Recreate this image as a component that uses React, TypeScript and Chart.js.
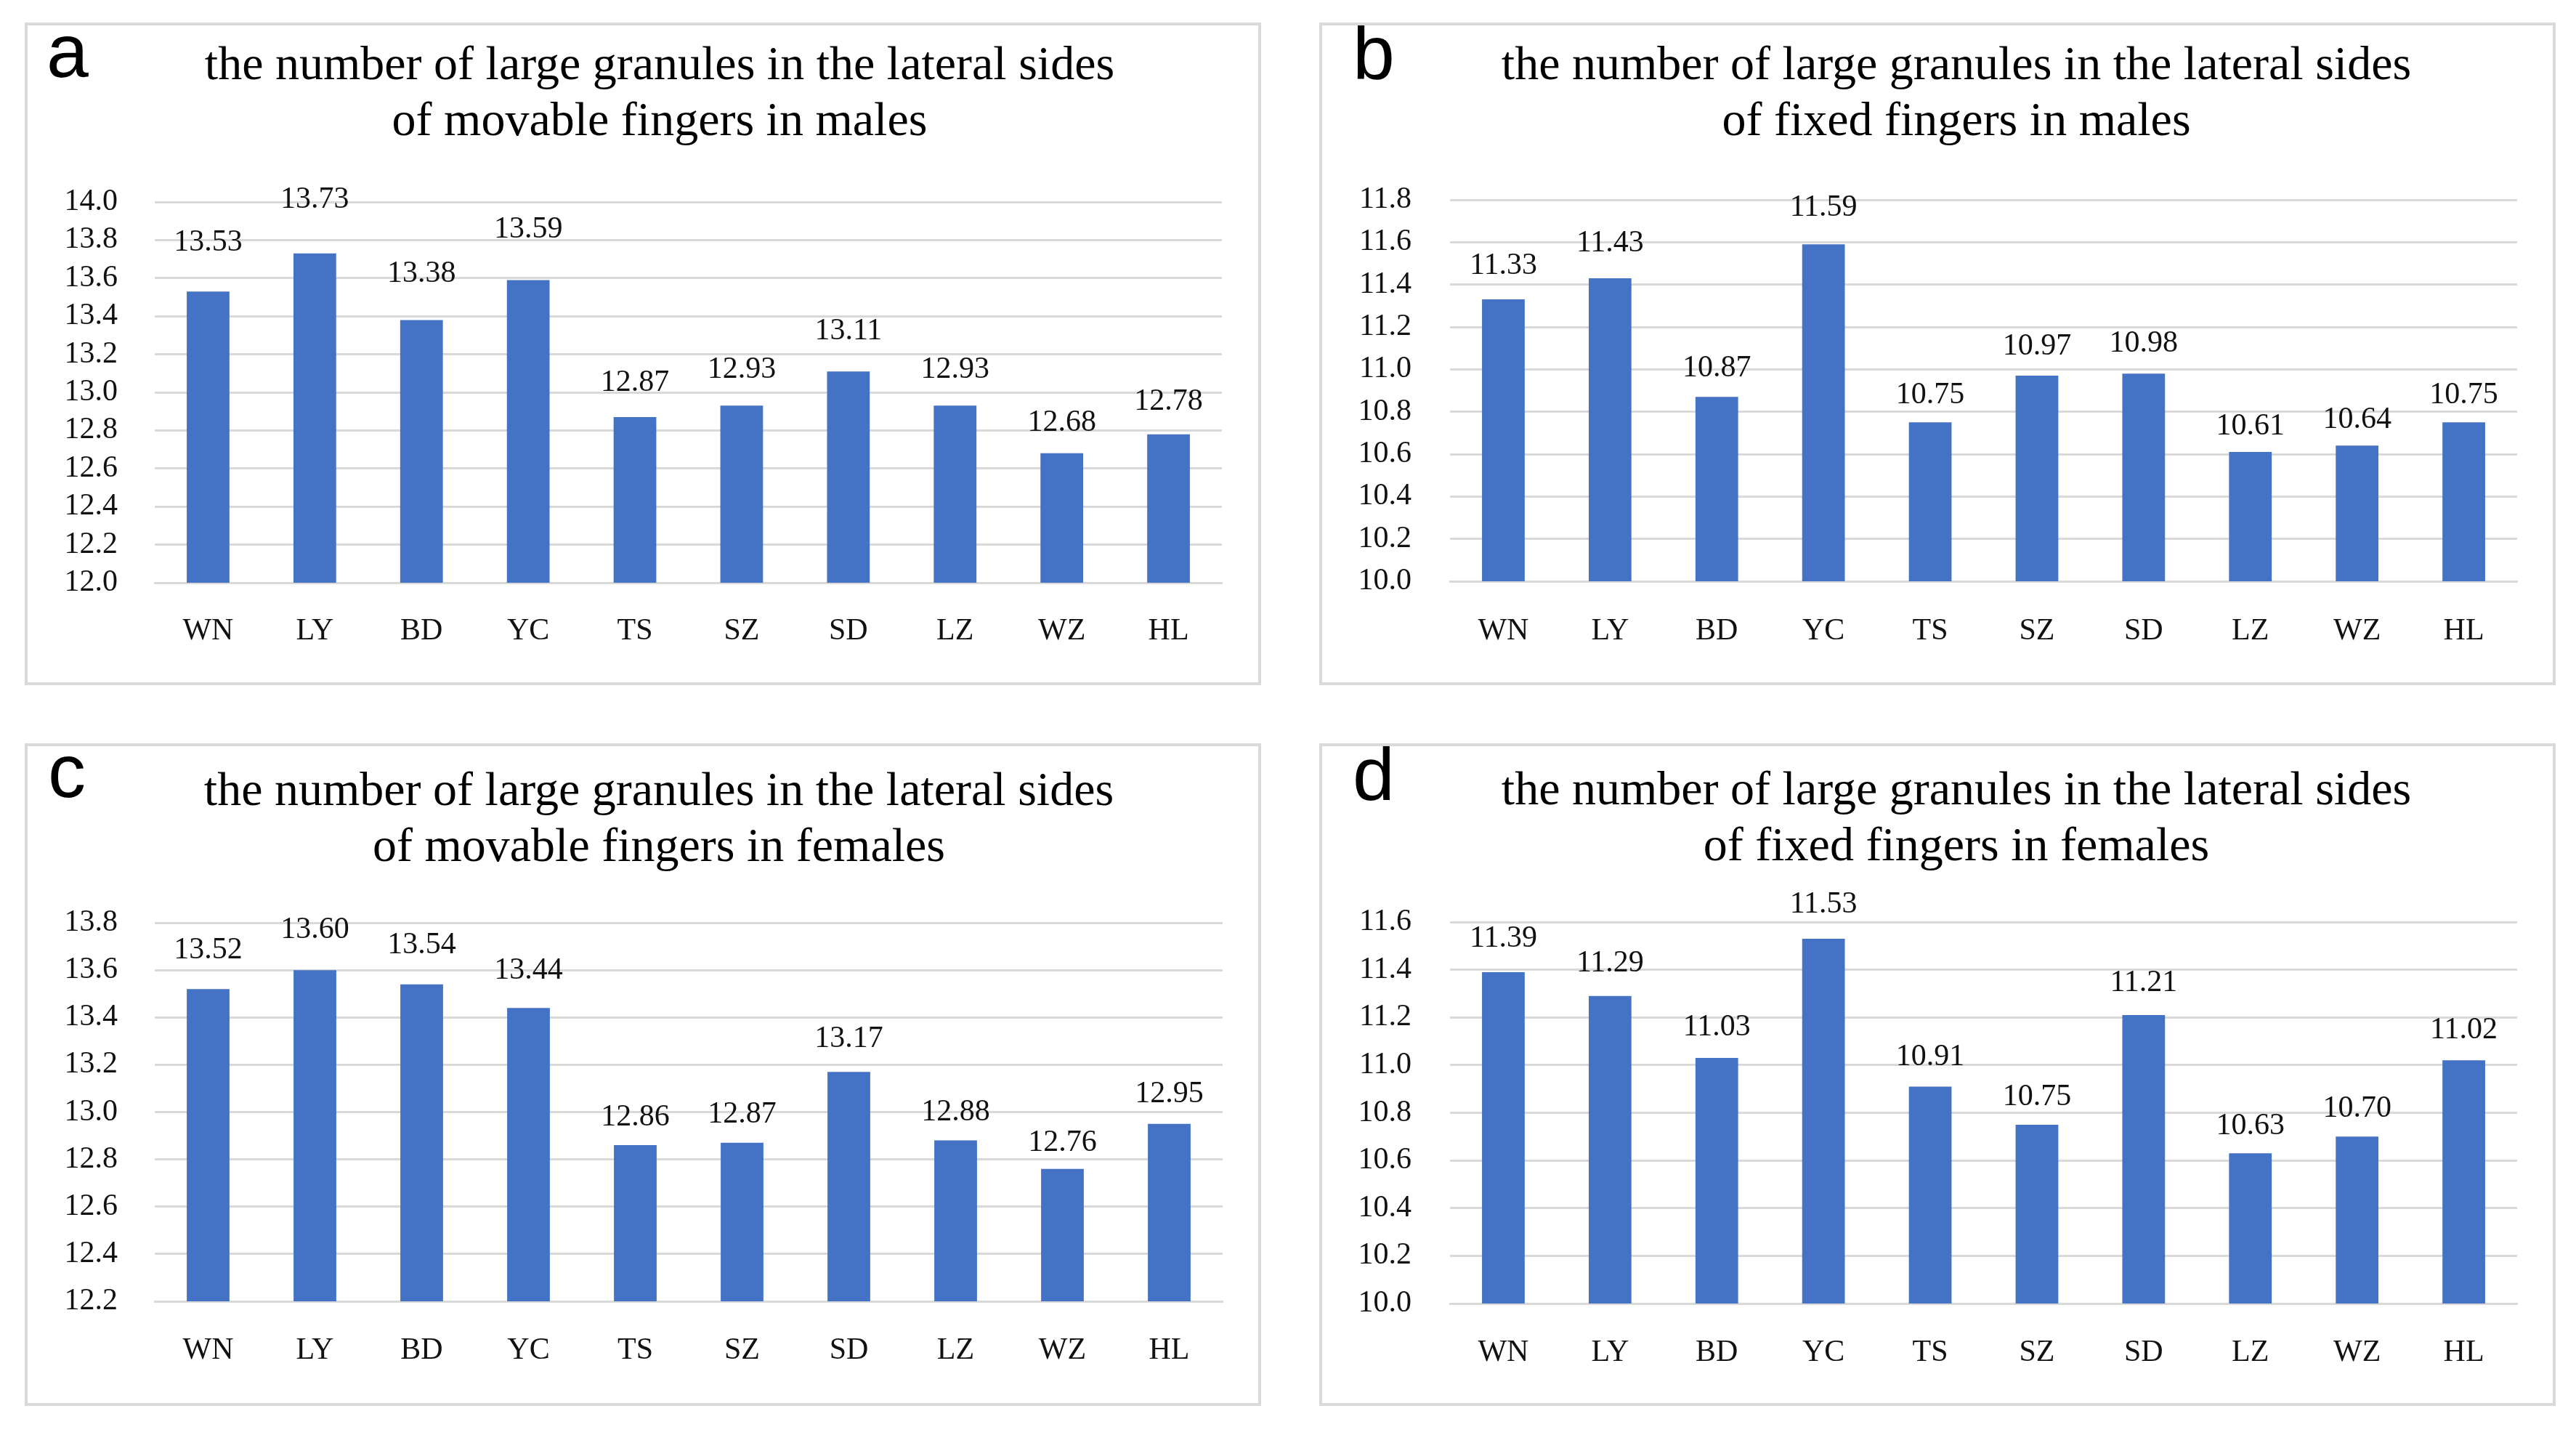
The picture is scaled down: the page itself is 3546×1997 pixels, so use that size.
import React, { useEffect, useRef } from "react";
import { Chart, registerables } from "chart.js";

Chart.register(...registerables);

// ---------- data ----------
const categories = ["WN", "LY", "BD", "YC", "TS", "SZ", "SD", "LZ", "WZ", "HL"];

const movableMales = [13.53, 13.73, 13.38, 13.59, 12.87, 12.93, 13.11, 12.93, 12.68, 12.78];
const fixedMales = [11.33, 11.43, 10.87, 11.59, 10.75, 10.97, 10.98, 10.61, 10.64, 10.75];
const movableFemales = [13.52, 13.6, 13.54, 13.44, 12.86, 12.87, 13.17, 12.88, 12.76, 12.95];
const fixedFemales = [11.39, 11.29, 11.03, 11.53, 10.91, 10.75, 11.21, 10.63, 10.7, 11.02];

const ticksMovableMales = [12.0, 12.2, 12.4, 12.6, 12.8, 13.0, 13.2, 13.4, 13.6, 13.8, 14.0];
const ticksFixedMales = [10.0, 10.2, 10.4, 10.6, 10.8, 11.0, 11.2, 11.4, 11.6, 11.8];
const ticksMovableFemales = [12.2, 12.4, 12.6, 12.8, 13.0, 13.2, 13.4, 13.6, 13.8];
const ticksFixedFemales = [10.0, 10.2, 10.4, 10.6, 10.8, 11.0, 11.2, 11.4, 11.6];

const titleMovableMales = ["the number of large granules in the lateral sides", "of movable fingers in males"];
const titleFixedMales = ["the number of large granules in the lateral sides", "of fixed fingers in males"];
const titleMovableFemales = ["the number of large granules in the lateral sides", "of movable fingers in females"];
const titleFixedFemales = ["the number of large granules in the lateral sides", "of fixed fingers in females"];

const panelLetters = ["a", "b", "c", "d"];

// ---------- styling ----------
const BAR_COLOR = "#4472C4";
const GRID_COLOR = "#d9d9d9";
const TEXT_COLOR = "#111111";
const SERIF = "'Liberation Serif', 'Times New Roman', serif";
const SANS = "'Liberation Sans', Arial, sans-serif";
const PANEL_W = 1702;
const PANEL_H = 912;

type Panel = {
  letter: string;
  title: string[];
  values: number[];
  ticks: number[];
  left: number;
  top: number;
  chartLeft: number;
  chartTop: number;
  padRight: number;
  yPad: number;
  titleX: number;
  titleY: number;
  xHeight: number;
  xPad: number;
  letterX: number;
  letterY: number;
  off0: number;
  off1: number;
};

const panels: Panel[] = [
  {
    letter: panelLetters[0], title: titleMovableMales, values: movableMales, ticks: ticksMovableMales,
    left: 34, top: 31, chartLeft: 179, chartTop: 247, padRight: 54, yPad: 51, titleX: 874, titleY: 61,
    xHeight: 141, xPad: 41.4, letterX: 30, letterY: 75, off0: 21, off1: 61,
  },
  {
    letter: panelLetters[1], title: titleFixedMales, values: fixedMales, ticks: ticksFixedMales,
    left: 1816, top: 31, chartLeft: 180, chartTop: 244, padRight: 53, yPad: 53, titleX: 877, titleY: 61,
    xHeight: 143, xPad: 43.4, letterX: 46, letterY: 77, off0: 26, off1: 27,
  },
  {
    letter: panelLetters[2], title: titleMovableFemales, values: movableFemales, ticks: ticksMovableFemales,
    left: 34, top: 1023, chartLeft: 179, chartTop: 247, padRight: 53, yPad: 51, titleX: 873, titleY: 68,
    xHeight: 144, xPad: 42.4, letterX: 32, letterY: 74, off0: 23, off1: 37,
  },
  {
    letter: panelLetters[3], title: titleFixedFemales, values: fixedFemales, ticks: ticksFixedFemales,
    left: 1816, top: 1023, chartLeft: 180, chartTop: 246, padRight: 53, yPad: 53, titleX: 877, titleY: 67,
    xHeight: 141, xPad: 42.4, letterX: 46, letterY: 78, off0: 30, off1: 18,
  },
];

function BarPanel({ p }: { p: Panel }) {
  const ref = useRef<HTMLCanvasElement | null>(null);

  useEffect(() => {
    if (!ref.current) return;

    const labelPlugin = {
      id: "valueLabels",
      afterDatasetsDraw(chart: any) {
        const ctx = chart.ctx;
        const meta = chart.getDatasetMeta(0);
        const area = chart.chartArea;
        const h = area.bottom - area.top;
        ctx.save();
        ctx.font = `42px ${SERIF}`;
        ctx.fillStyle = TEXT_COLOR;
        ctx.textAlign = "center";
        ctx.textBaseline = "middle";
        meta.data.forEach((el: any, i: number) => {
          const frac = (area.bottom - el.y) / h;
          const off = p.off0 + p.off1 * frac;
          ctx.fillText(p.values[i].toFixed(2), el.x, el.y - off);
        });
        ctx.restore();
      },
    };

    const headerPlugin = {
      id: "panelHeader",
      afterDraw(chart: any) {
        const ctx = chart.ctx;
        ctx.save();
        ctx.fillStyle = "#000000";
        ctx.font = `104px ${SANS}`;
        ctx.textAlign = "left";
        ctx.textBaseline = "alphabetic";
        ctx.fillText(p.letter, p.letterX, p.letterY);
        ctx.font = `66px ${SERIF}`;
        ctx.textAlign = "center";
        ctx.textBaseline = "middle";
        p.title.forEach((line, i) => {
          ctx.fillText(line, p.titleX, p.titleY + i * 77);
        });
        ctx.restore();
      },
    };

    const chart = new Chart(ref.current, {
      type: "bar",
      data: {
        labels: categories,
        datasets: [
          {
            data: p.values,
            backgroundColor: BAR_COLOR,
            borderWidth: 0,
            barPercentage: 0.4,
            categoryPercentage: 1.0,
          },
        ],
      },
      options: {
        animation: false,
        responsive: false,
        devicePixelRatio: 1,
        layout: { padding: { left: 0, right: p.padRight, top: p.chartTop, bottom: 0 } },
        plugins: {
          legend: { display: false },
          tooltip: { enabled: false },
          title: { display: false },
        },
        scales: {
          x: {
            grid: { display: false, drawTicks: false },
            border: { display: true, color: GRID_COLOR, width: 3 },
            ticks: {
              color: TEXT_COLOR,
              font: { family: SERIF, size: 42 },
              padding: p.xPad,
              autoSkip: false,
              maxRotation: 0,
              minRotation: 0,
            },
            afterFit: (s: any) => {
              s.height = p.xHeight;
            },
          },
          y: {
            min: p.ticks[0],
            max: p.ticks[p.ticks.length - 1],
            grid: { color: GRID_COLOR, lineWidth: 3, drawTicks: false },
            border: { display: false },
            ticks: {
              color: TEXT_COLOR,
              font: { family: SERIF, size: 42 },
              padding: p.yPad,
              autoSkip: false,
              callback: (v: any) => Number(v).toFixed(1),
            },
            afterBuildTicks: (s: any) => {
              s.ticks = p.ticks.map((v) => ({ value: v }));
            },
            afterFit: (s: any) => {
              s.width = p.chartLeft;
            },
          },
        },
      },
      plugins: [labelPlugin, headerPlugin],
    } as any);

    return () => chart.destroy();
  }, [p]);

  return (
    <div
      style={{
        position: "absolute",
        left: p.left,
        top: p.top,
        width: PANEL_W,
        height: PANEL_H,
      }}
    >
      <canvas
        ref={ref}
        width={PANEL_W}
        height={PANEL_H}
        style={{ position: "absolute", left: 0, top: 0, width: PANEL_W, height: PANEL_H }}
      />
      <div
        style={{
          position: "absolute",
          left: 0,
          top: 0,
          width: PANEL_W,
          height: PANEL_H,
          border: `4px solid ${GRID_COLOR}`,
          boxSizing: "border-box",
          pointerEvents: "none",
        }}
      />
    </div>
  );
}

export default function App() {
  return (
    <div
      style={{
        position: "absolute",
        left: 0,
        top: 0,
        width: 3546,
        height: 1997,
        background: "#ffffff",
        overflow: "hidden",
      }}
    >
      {panels.map((p) => (
        <BarPanel key={p.letter} p={p} />
      ))}
    </div>
  );
}
